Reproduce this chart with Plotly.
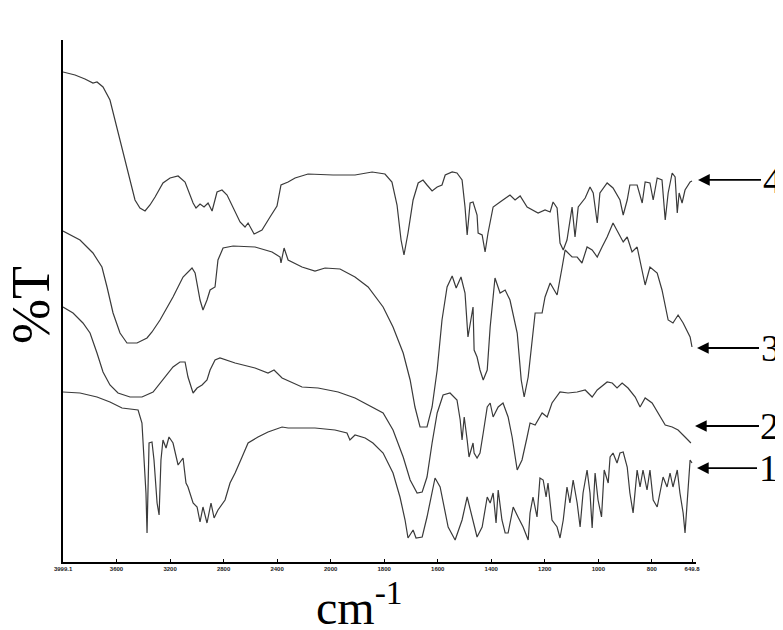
import plotly.graph_objects as go

# ---------------- data ----------------
# wavenumber (cm-1) and %T (arbitrary, stacked spectra)
wn4 = [4000, 3910, 3836, 3776, 3746, 3701, 3649, 3589, 3522, 3462, 3425, 3387, 3350, 3312, 3253, 3200,
       3140, 3088, 3028, 3006, 2976, 2946, 2916, 2886, 2849, 2812, 2774, 2729, 2677, 2640, 2617, 2572,
       2513, 2453, 2401, 2371, 2318, 2266, 2169, 1991, 1909, 1845, 1797, 1771, 1752, 1737, 1726, 1711,
       1692, 1673, 1655, 1640, 1621, 1602, 1584, 1572, 1546, 1528, 1509, 1498, 1490, 1479, 1468, 1453,
       1449, 1434, 1423, 1412, 1393, 1367, 1330, 1311, 1292, 1266, 1225, 1199, 1180, 1169, 1154, 1143,
       1131, 1117, 1098, 1087, 1075, 1049, 1031, 1019, 1004, 994, 967, 945, 919, 907, 892, 882, 855,
       836, 825, 807, 795, 780, 762, 750, 739, 724, 713, 705, 698, 687, 676, 657, 650]
t4 = [98.0, 97.4, 96.6, 95.8, 96.0, 95.0, 92.4, 85.8, 79.0, 72.4, 70.8, 70.2, 71.4, 73.0, 75.8, 76.8,
      77.2, 76.0, 71.8, 70.8, 71.6, 71.0, 71.8, 70.2, 74.0, 74.4, 73.4, 71.0, 68.0, 67.0, 67.8, 65.6,
      66.4, 69.0, 71.2, 75.4, 76.0, 76.8, 77.6, 77.4, 77.4, 78.0, 77.6, 76.0, 71.4, 64.4, 61.4, 65.8,
      72.4, 75.8, 76.4, 75.4, 74.2, 75.0, 75.4, 77.4, 78.0, 77.8, 76.4, 71.0, 65.4, 71.8, 72.0, 69.4,
      65.8, 65.4, 62.0, 65.8, 71.0, 72.0, 73.4, 72.4, 73.2, 71.0, 69.8, 70.4, 70.0, 72.0, 70.8, 63.8,
      62.4, 64.4, 71.0, 65.0, 71.0, 72.8, 75.0, 73.8, 67.8, 73.8, 75.8, 74.8, 72.4, 69.4, 72.4, 75.4, 75.4,
      71.8, 76.0, 75.8, 72.4, 76.8, 76.4, 68.4, 73.8, 77.8, 77.0, 69.8, 73.8, 71.8, 74.4, 76.0, 76.2]

wn3 = [4000, 3873, 3776, 3709, 3671, 3626, 3574, 3522, 3447, 3372, 3335, 3275, 3178, 3103, 3036, 3013,
       2976, 2954, 2924, 2901, 2864, 2842, 2804, 2729, 2565, 2438, 2378, 2371, 2348, 2318, 2214, 2117,
       2042, 1965, 1909, 1860, 1804, 1767, 1729, 1703, 1685, 1666, 1640, 1621, 1602, 1584, 1565, 1546,
       1531, 1513, 1498, 1487, 1468, 1464, 1453, 1442, 1430, 1415, 1404, 1386, 1367, 1348, 1330, 1303,
       1288, 1277, 1262, 1255, 1236, 1210, 1199, 1180, 1154, 1135, 1124, 1098, 1079, 1061, 1042, 1023,
       1004, 986, 967, 945, 926, 907, 892, 874, 855, 844, 825, 807, 780, 762, 739, 721, 702, 683, 657, 650]
t3 = [66.2, 64.4, 61.8, 59.0, 55.0, 49.8, 45.8, 43.8, 43.8, 44.8, 46.0, 48.4, 53.0, 57.0, 58.8, 57.8,
      52.4, 50.4, 52.4, 54.4, 55.0, 60.4, 62.8, 63.2, 63.0, 62.0, 61.0, 59.8, 62.8, 60.4, 59.0, 58.2,
      58.8, 58.6, 57.0, 55.0, 51.0, 47.0, 41.8, 36.4, 31.0, 27.0, 27.0, 31.0, 38.4, 48.4, 55.0, 57.2,
      54.8, 57.0, 53.8, 45.0, 51.0, 42.4, 41.0, 38.4, 36.4, 38.4, 47.0, 56.8, 53.8, 54.4, 52.4, 45.8,
      36.4, 33.0, 37.0, 40.4, 49.8, 49.8, 53.0, 55.8, 53.4, 59.0, 62.4, 61.0, 61.0, 59.8, 63.0, 62.4,
      61.0, 63.0, 65.0, 67.8, 65.8, 64.0, 65.0, 62.0, 63.0, 60.4, 55.4, 59.0, 57.8, 54.4, 48.4, 47.8,
      49.4, 47.8, 45.0, 43.0]

wn2 = [4000, 3925, 3851, 3798, 3746, 3701, 3649, 3589, 3499, 3410, 3327, 3253, 3178, 3126, 3088, 3066,
       3028, 2998, 2961, 2924, 2901, 2864, 2827, 2714, 2565, 2468, 2423, 2363, 2214, 2094, 1972, 1909,
       1845, 1804, 1767, 1729, 1703, 1677, 1658, 1640, 1621, 1602, 1580, 1554, 1528, 1516, 1509, 1501,
       1490, 1483, 1468, 1464, 1453, 1442, 1430, 1415, 1404, 1393, 1374, 1356, 1337, 1322, 1303, 1285,
       1266, 1255, 1236, 1210, 1191, 1173, 1143, 1113, 1079, 1049, 1023, 1004, 967, 948, 930, 911, 889,
       862, 844, 825, 799, 776, 750, 724, 702, 676, 654]
t2 = [51.0, 49.8, 47.8, 45.8, 41.8, 38.0, 35.4, 33.8, 33.0, 33.0, 34.0, 36.4, 39.0, 40.0, 40.0, 37.0,
      33.8, 34.8, 35.4, 36.4, 38.4, 40.4, 40.8, 39.8, 38.8, 37.8, 38.4, 36.8, 35.0, 34.8, 34.0, 32.8,
      31.0, 29.8, 26.4, 21.0, 16.4, 13.8, 14.0, 17.0, 23.8, 29.8, 33.4, 33.8, 32.4, 28.4, 24.4, 29.0,
      24.4, 21.0, 23.8, 21.8, 20.8, 21.8, 25.8, 31.0, 31.8, 29.0, 31.0, 31.8, 29.0, 25.0, 18.4, 20.4,
      25.0, 27.8, 27.4, 29.8, 29.0, 31.8, 34.0, 33.8, 34.0, 34.4, 33.0, 34.4, 36.0, 35.8, 34.8, 35.8, 34.8,
      33.0, 31.0, 32.8, 31.8, 29.8, 27.4, 27.0, 26.4, 25.0, 23.8]

wn1 = [4000, 3873, 3746, 3649, 3559, 3499, 3439, 3410, 3395, 3380, 3372, 3357, 3335, 3320, 3297, 3282,
       3268, 3253, 3230, 3208, 3178, 3140, 3103, 3081, 3066, 3028, 2998, 2976, 2954, 2924, 2894, 2871,
       2842, 2827, 2789, 2752, 2714, 2662, 2617, 2543, 2468, 2363, 2318, 2214, 2117, 1984, 1939, 1928,
       1909, 1871, 1842, 1804, 1767, 1741, 1722, 1711, 1692, 1681, 1658, 1640, 1621, 1610, 1591, 1580,
       1561, 1535, 1509, 1490, 1472, 1453, 1434, 1415, 1404, 1393, 1382, 1374, 1360, 1348, 1337, 1318,
       1300, 1281, 1262, 1255, 1244, 1229, 1218, 1206, 1195, 1188, 1173, 1154, 1143, 1131, 1117, 1106,
       1094, 1079, 1068, 1057, 1042, 1031, 1023, 1012, 1001, 988, 978, 963, 956, 945, 930, 919, 907, 892,
       882, 870, 855, 844, 833, 818, 807, 795, 780, 769, 758, 743, 732, 721, 705, 695, 683, 676, 664,
       657, 650]
t1 = [34.0, 33.8, 33.0, 32.0, 30.8, 30.6, 30.4, 27.8, 20.4, 13.8, 5.8, 23.8, 24.0, 20.4, 11.8, 9.4,
      20.4, 24.4, 22.8, 25.0, 23.8, 19.4, 20.8, 15.8, 15.0, 11.8, 11.0, 8.0, 11.0, 7.8, 11.8, 8.8,
      10.4, 11.0, 12.4, 15.8, 17.8, 21.0, 23.8, 25.0, 26.0, 27.0, 26.8, 26.8, 26.8, 26.4, 25.8, 24.4,
      25.4, 24.8, 23.8, 21.8, 17.8, 13.0, 8.4, 4.8, 6.4, 4.8, 5.0, 9.0, 14.4, 16.8, 15.0, 11.8,
      7.0, 4.4, 8.4, 13.0, 9.0, 5.0, 7.0, 13.0, 11.8, 13.8, 7.8, 14.4, 8.4, 5.8, 5.8, 11.0,
      9.0, 7.0, 4.4, 9.8, 13.0, 9.0, 16.8, 16.4, 13.0, 15.8, 8.4, 7.0, 4.8, 8.4, 15.0, 11.8,
      16.4, 11.8, 7.0, 13.8, 18.4, 13.8, 6.8, 17.8, 12.4, 9.0, 18.4, 15.8, 21.0, 21.8, 19.8, 21.8, 22.0, 19.0,
      13.8, 9.8, 18.4, 15.0, 18.4, 14.4, 18.4, 12.4, 11.0, 14.4, 17.0, 15.0, 17.8, 15.0, 18.4, 13.8, 9.8, 5.8, 15.0,
      20.4, 19.8]

tick_wn = [3999.1, 3600, 3200, 2800, 2400, 2000, 1800, 1600, 1400, 1200, 1000, 800, 649.8]
tick_text = ["3999.1", "3600", "3200", "2800", "2400", "2000", "1800", "1600",
             "1400", "1200", "1000", "800", "649.8"]
series_labels = ["1", "2", "3", "4"]


def axis_pos(w):
    # instrument-style abscissa: 4000-2000 cm-1 compressed, below 2000 cm-1 expanded 2x
    return 4000 - w if w >= 2000 else 2000 + 2 * (2000 - w)


fig = go.Figure()
for wn, t in [(wn1, t1), (wn2, t2), (wn3, t3), (wn4, t4)]:
    fig.add_trace(go.Scatter(x=[axis_pos(w) for w in wn], y=t, mode="lines",
                             line=dict(color="#3a3a3a", width=1.2), showlegend=False,
                             hoverinfo="skip"))

serif = "Liberation Serif, Times New Roman, serif"

annotations = [
    dict(text="cm<sup>-1</sup>", xref="paper", yref="paper", x=0.469, y=-0.080,
         xanchor="center", yanchor="middle", showarrow=False,
         font=dict(family=serif, size=48, color="black")),
    dict(text="%T", xref="paper", yref="paper", x=-0.051, y=0.492, textangle=-90,
         xanchor="center", yanchor="middle", showarrow=False,
         font=dict(family=serif, size=54, color="black")),
]
arrow_pos = [(1.0016, 0.180, 71), (0.9984, 0.2605, 75), (1.0016, 0.410, 73), (1.0032, 0.732, 74)]
for lab, (px, py, ax) in zip(series_labels, arrow_pos):
    annotations.append(dict(text=lab, xref="paper", yref="paper", x=px, y=py, ax=ax, ay=0,
                            showarrow=True, arrowhead=2, arrowsize=1.3, arrowwidth=1.8,
                            arrowcolor="black", standoff=0,
                            font=dict(family=serif, size=38, color="black")))

# the page body adds an 8px offset, so margins are reduced by 8px on the left/top
fig.update_layout(
    width=783, height=630,
    margin=dict(l=55, r=95, t=32, b=76),
    paper_bgcolor="white", plot_bgcolor="white",
    annotations=annotations,
    xaxis=dict(range=[0, 4730], tickvals=[axis_pos(w) for w in tick_wn], ticktext=tick_text,
               ticks="inside", ticklen=3, tickwidth=1, tickcolor="black",
               tickfont=dict(family="Arial, Liberation Sans, sans-serif", size=6, color="#222",
                             weight=700),
               showline=True, linecolor="black", linewidth=2, showgrid=False, zeroline=False),
    yaxis=dict(range=[0, 104.4], showticklabels=False, ticks="", showline=True,
               linecolor="black", linewidth=2, showgrid=False, zeroline=False),
)

fig.write_html("out.html")
